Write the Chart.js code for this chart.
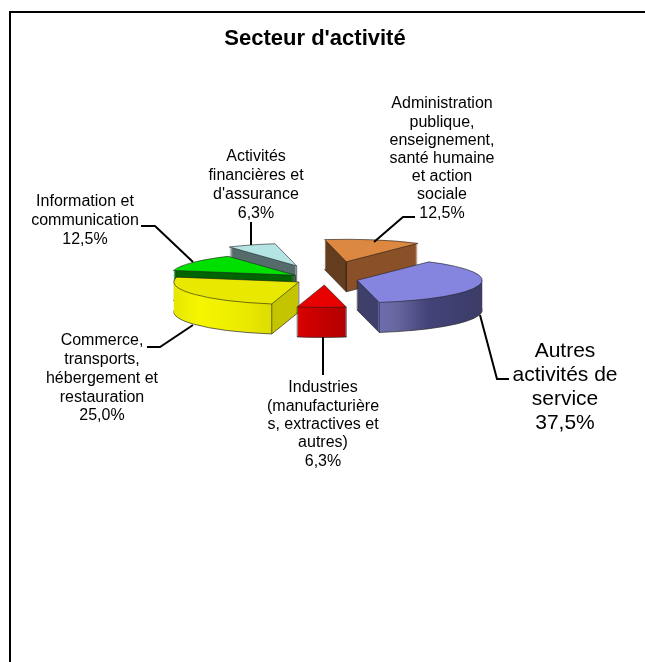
<!DOCTYPE html>
<html lang="fr">
<head>
<meta charset="utf-8">
<title>Secteur d'activité</title>
<script src="https://cdn.jsdelivr.net/npm/chart.js@4"></script>
<style>
    html, body { margin: 0; padding: 0; background: #fff; overflow: hidden; }
    canvas { display: block; }
</style>
</head>
<body>
<canvas id="mainChart" width="645" height="662"></canvas>
<script>
// Data, clockwise from the big slice
const titleText = "Secteur d'activité";
const categories = [
    'Autres activités de service',
    'Industries (manufacturières, extractives et autres)',
    'Commerce, transports, hébergement et restauration',
    'Information et communication',
    'Activités financières et d\'assurance',
    'Administration publique, enseignement, santé humaine et action sociale'
];
const values = [37.5, 6.3, 25.0, 12.5, 6.3, 12.5];
const labelLines = [
    ['Autres', 'activités de', 'service'],
    ['Industries', '(manufacturière', 's, extractives et', 'autres)'],
    ['Commerce,', 'transports,', 'hébergement et', 'restauration'],
    ['Information et', 'communication'],
    ['Activités', 'financières et', "d'assurance"],
    ['Administration', 'publique,', 'enseignement,', 'santé humaine', 'et action', 'sociale']
];

// Slice styling
const topColors = ['#8585e0', '#e60000', '#e8e800', '#00e000', '#b4e4e4', '#dc8840'];
const explode = [33, 33, 31, 36, 78, 98];
const paintOrder = [5, 4, 3, 0, 2, 1];
// which corners get a vertical edge line on the wall
const wallEdges = [['apex', 'end'], ['start', 'end'], ['start', 'apex'], ['apex'], ['apex'], ['apex']];

// Perspective of the fake 3D
const pieX = 325;
const pieY = 279;
const squash = 0.18;
const depth = 30;

// Label placement: x centre, y of first line, line height, font size
const labelBoxes = [
    { x: 565, y: 351, lh: 24, size: 21 },
    { x: 323, y: 388, lh: 18.3, size: 16 },
    { x: 102, y: 341, lh: 18.7, size: 16 },
    { x: 85, y: 202, lh: 19, size: 16 },
    { x: 256, y: 157, lh: 18.7, size: 16 },
    { x: 442, y: 104, lh: 18.2, size: 16 }
];
const leaders = [
    [[480, 315], [497, 379], [509, 379]],
    [[323, 337], [323, 375]],
    [[193, 325], [160, 347], [147, 347]],
    [[193, 262], [155, 226], [141, 226]],
    [[251, 245], [251, 222]],
    [[374, 242], [403, 217], [415, 217]]
];

// Gradients live in the arc's local space, so stops are shifted back from page x
function wallFill(ctx, el, i) {
    const mid = (el.startAngle + el.endAngle) / 2;
    const shift = pieX + Math.cos(mid) * explode[i] - el.x;
    const g = ctx.createLinearGradient(150 - shift, 0, 490 - shift, 0);
    const stop = (x, c) => g.addColorStop((x - 150) / 340, c);
    if (i === 0) {
        stop(357, '#3f3f6b'); stop(378, '#3f3f6b'); stop(378.5, '#6e6eb0');
        stop(398, '#66669f'); stop(428, '#43437a'); stop(482, '#3c3c66');
    } else if (i === 1) {
        stop(298, '#d80000'); stop(347, '#b00000');
    } else if (i === 2) {
        stop(173, '#e6e600'); stop(200, '#f6f600'); stop(245, '#eaea00');
        stop(272, '#dcdc00'); stop(272.5, '#c4c400'); stop(298, '#c4c400');
    } else if (i === 3) {
        return '#006400';
    } else if (i === 4) {
        return '#566c6c';
    } else {
        stop(325, '#643c1e'); stop(347, '#643c1e'); stop(347.5, '#8a5028'); stop(419, '#8a5028');
    }
    return g;
}

// Draws one arc element with its own fill and a hairline that ignores the squash
function drawArcAt(ctx, el, i, dy, fill, line) {
    const saved = el.options;
    const mid = (el.startAngle + el.endAngle) / 2;
    el.options = Object.assign({}, saved, { backgroundColor: fill, borderColor: line || fill, borderWidth: line ? 1 : 0 });
    ctx.save();
    ctx.translate(pieX, pieY + dy);
    ctx.scale(1, squash);
    ctx.translate(Math.cos(mid) * explode[i] - el.x, Math.sin(mid) * explode[i] - el.y);
    const rawStroke = ctx.stroke;
    ctx.stroke = function () {
        ctx.save();
        ctx.setTransform(1, 0, 0, 1, 0, 0);
        rawStroke.call(ctx);
        ctx.restore();
    };
    el.draw(ctx);
    delete ctx.stroke;
    ctx.restore();
    el.options = saved;
}

function corner(el, i, name) {
    const mid = (el.startAngle + el.endAngle) / 2;
    const ax = pieX + Math.cos(mid) * explode[i];
    const ay = pieY + Math.sin(mid) * explode[i] * squash;
    if (name === 'apex') return [ax, ay];
    const a = name === 'start' ? el.startAngle : el.endAngle;
    return [ax + Math.cos(a) * el.outerRadius, ay + Math.sin(a) * el.outerRadius * squash];
}

const pie3dPlugin = {
    id: 'pie3d',
    beforeDraw(chart) {
        const ctx = chart.ctx;
        ctx.save();
        ctx.strokeStyle = '#000';
        ctx.lineWidth = 2;
        ctx.strokeRect(10, 12, 800, 800);
        ctx.restore();
    },
    beforeDatasetsDraw(chart) {
        const ctx = chart.ctx;
        const arcs = chart.getDatasetMeta(0).data;
        paintOrder.forEach(i => {
            const el = arcs[i];
            const fill = wallFill(ctx, el, i);
            drawArcAt(ctx, el, i, depth, fill, 'rgba(40,40,40,0.7)');
            for (let dy = depth - 1; dy > 0; dy--) {
                drawArcAt(ctx, el, i, dy, fill);
            }
            ctx.save();
            ctx.strokeStyle = 'rgba(20,20,20,0.75)';
            ctx.lineWidth = 0.8;
            wallEdges[i].forEach(name => {
                const p = corner(el, i, name);
                ctx.beginPath();
                ctx.moveTo(p[0], p[1]);
                ctx.lineTo(p[0], p[1] + depth);
                ctx.stroke();
            });
            ctx.restore();
            drawArcAt(ctx, el, i, 0, topColors[i], 'rgba(30,30,30,0.6)');
        });
        return false;
    },
    afterDraw(chart) {
        const ctx = chart.ctx;
        ctx.save();
        // leader lines
        ctx.strokeStyle = '#000';
        ctx.lineWidth = 2;
        leaders.forEach(points => {
            ctx.beginPath();
            points.forEach((p, n) => n ? ctx.lineTo(p[0], p[1]) : ctx.moveTo(p[0], p[1]));
            ctx.stroke();
        });
        // labels: wrapped name, then the value with a French decimal comma
        ctx.fillStyle = '#000';
        ctx.textAlign = 'center';
        ctx.textBaseline = 'middle';
        labelLines.forEach((lines, i) => {
            const box = labelBoxes[i];
            ctx.font = `${box.size}px "Liberation Sans"`;
            const pct = values[i].toFixed(1).replace('.', ',') + '%';
            lines.concat(pct).forEach((line, n) => ctx.fillText(line, box.x, box.y + n * box.lh));
        });
        ctx.restore();
    }
};

const mainChart = new Chart(document.getElementById('mainChart').getContext('2d'), {
    type: 'pie',
    data: {
        labels: categories,
        datasets: [{ data: values, backgroundColor: topColors, borderWidth: 0 }]
    },
    options: {
        responsive: false,
        animation: false,
        rotation: 35,
        radius: 125,
        layout: { padding: { right: 15 } },
        plugins: {
            legend: { display: false },
            tooltip: { enabled: false },
            title: {
                display: true,
                text: titleText,
                color: '#000',
                font: { family: '"Liberation Sans"', size: 22, weight: 'bold' },
                padding: { top: 26, bottom: 10 }
            }
        }
    },
    plugins: [pie3dPlugin]
});
</script>
</body>
</html>
